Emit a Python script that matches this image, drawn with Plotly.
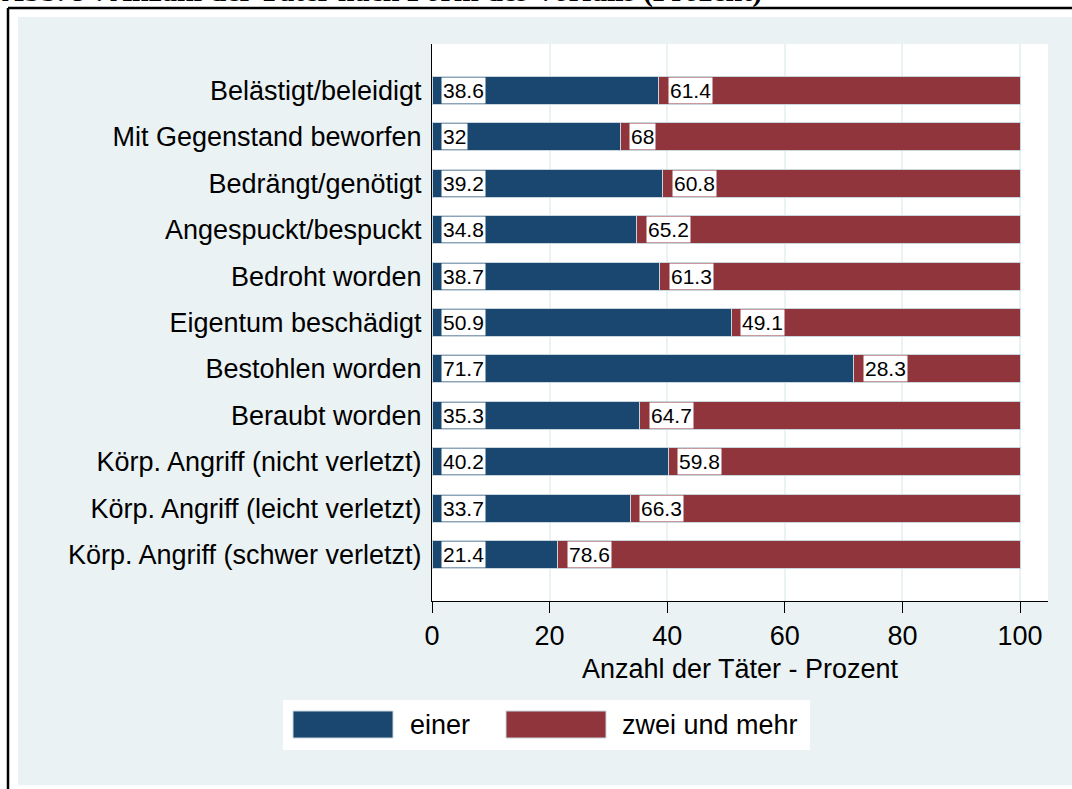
import plotly.graph_objects as go

categories = [
    "Belästigt/beleidigt",
    "Mit Gegenstand beworfen",
    "Bedrängt/genötigt",
    "Angespuckt/bespuckt",
    "Bedroht worden",
    "Eigentum beschädigt",
    "Bestohlen worden",
    "Beraubt worden",
    "Körp. Angriff (nicht verletzt)",
    "Körp. Angriff (leicht verletzt)",
    "Körp. Angriff (schwer verletzt)",
]
einer = [38.6, 32, 39.2, 34.8, 38.7, 50.9, 71.7, 35.3, 40.2, 33.7, 21.4]
zwei_und_mehr = [61.4, 68, 60.8, 65.2, 61.3, 49.1, 28.3, 64.7, 59.8, 66.3, 78.6]
series_names = ["einer", "zwei und mehr"]
x_ticks = [0, 20, 40, 60, 80, 100]
title_text = "Abb. 9 : Anzahl der Täter nach Form des Vorfalls (Prozent)"
x_title = "Anzahl der Täter - Prozent"

W, H = 1072, 789
BLUE = "#1A476F"
RED = "#90353B"
BG = "#EAF2F3"
EDGE = "#c9d5dd"
FONT = "Liberation Sans, Arial, sans-serif"


def px(x):
    return x / W


def py(y):
    return 1 - y / H


fig = go.Figure()
fig.add_trace(go.Bar(
    y=categories, x=einer, orientation="h", name=series_names[0],
    marker=dict(color=BLUE, line=dict(color=EDGE, width=1)),
    showlegend=False,
))
fig.add_trace(go.Bar(
    y=categories, x=zwei_und_mehr, orientation="h", name=series_names[1],
    marker=dict(color=RED, line=dict(color=EDGE, width=1)),
    showlegend=False,
))

annotations = []
for cat, b, r in zip(categories, einer, zwei_und_mehr):
    annotations.append(dict(
        x=0, y=cat, xref="x", yref="y", text=f"{b:g}", showarrow=False,
        xanchor="left", yanchor="middle", xshift=9, bgcolor="white",
        borderpad=1, font=dict(family=FONT, size=21, color="black"),
    ))
    annotations.append(dict(
        x=b, y=cat, xref="x", yref="y", text=f"{r:g}", showarrow=False,
        xanchor="left", yanchor="middle", xshift=9, bgcolor="white",
        borderpad=1, font=dict(family=FONT, size=21, color="black"),
    ))

# title (cut off at the top of the page, as in the reference)
annotations.append(dict(
    x=px(0), y=py(10), xref="paper", yref="paper", text="<b>" + title_text + "</b>",
    showarrow=False, xanchor="left", yanchor="bottom",
    font=dict(family="Liberation Serif, Times New Roman, serif", size=30, color="black"),
))

# legend texts
annotations.append(dict(
    x=px(408), y=py(725), xref="paper", yref="paper", text=series_names[0],
    showarrow=False, xanchor="left", yanchor="middle",
    font=dict(family=FONT, size=27, color="black"),
))
annotations.append(dict(
    x=px(620), y=py(725), xref="paper", yref="paper", text=series_names[1],
    showarrow=False, xanchor="left", yanchor="middle",
    font=dict(family=FONT, size=27, color="black"),
))

shapes = [
    # graph background
    dict(type="rect", xref="paper", yref="paper", x0=px(18), x1=px(1072),
         y0=py(785), y1=py(17), fillcolor=BG, line=dict(width=0), layer="below"),
    # plot region white
    dict(type="rect", xref="paper", yref="paper", x0=px(432), x1=px(1048),
         y0=py(601), y1=py(44), fillcolor="white", line=dict(width=0), layer="below"),
    # border lines
    dict(type="line", xref="paper", yref="paper", x0=px(8), x1=px(1072),
         y0=py(8), y1=py(8), line=dict(color="black", width=2.5)),
    dict(type="line", xref="paper", yref="paper", x0=px(8), x1=px(8),
         y0=py(8), y1=py(789), line=dict(color="black", width=2.5)),
    # legend box
    dict(type="rect", xref="paper", yref="paper", x0=px(283), x1=px(810),
         y0=py(750), y1=py(700), fillcolor="white", line=dict(width=0)),
    dict(type="rect", xref="paper", yref="paper", x0=px(293), x1=px(393),
         y0=py(738), y1=py(711), fillcolor=BLUE, line=dict(color=EDGE, width=1)),
    dict(type="rect", xref="paper", yref="paper", x0=px(506), x1=px(606),
         y0=py(738), y1=py(711), fillcolor=RED, line=dict(color=EDGE, width=1)),
]

fig.update_layout(
    width=W, height=H,
    autosize=False,
    margin=dict(l=0, r=0, t=0, b=0, autoexpand=False),
    paper_bgcolor="white",
    plot_bgcolor="rgba(0,0,0,0)",
    barmode="stack",
    bargap=0.4,
    showlegend=False,
    font=dict(family=FONT, size=27, color="black"),
    annotations=annotations,
    shapes=shapes,
    xaxis=dict(
        domain=[px(432), px(1048)],
        range=[0, 616 / 5.88],
        tickvals=x_ticks,
        ticks="outside", ticklen=11, tickcolor="black", tickwidth=1,
        showgrid=True, gridcolor=BG, gridwidth=2,
        showline=True, linecolor="black", linewidth=1,
        zeroline=False, automargin=False,
        tickfont=dict(size=27),
        title=dict(text=x_title, standoff=8, font=dict(size=27)),
    ),
    yaxis=dict(
        domain=[py(601), py(44)],
        range=[len(categories), -1],
        categoryorder="array", categoryarray=categories,
        showgrid=False, zeroline=False, automargin=False,
        showline=True, linecolor="black", linewidth=1,
        ticks="", ticklabelstandoff=4,
        tickfont=dict(size=27),
    ),
)

fig.write_html(
    "out.html",
    config={"displayModeBar": False, "responsive": False},
    post_script=(
        "document.body.style.margin='0';document.body.style.overflow='hidden';"
        "var d=document.getElementsByClassName('plotly-graph-div')[0];"
        "d.style.position='fixed';d.style.left='0px';d.style.top='0px';"
    ),
)
